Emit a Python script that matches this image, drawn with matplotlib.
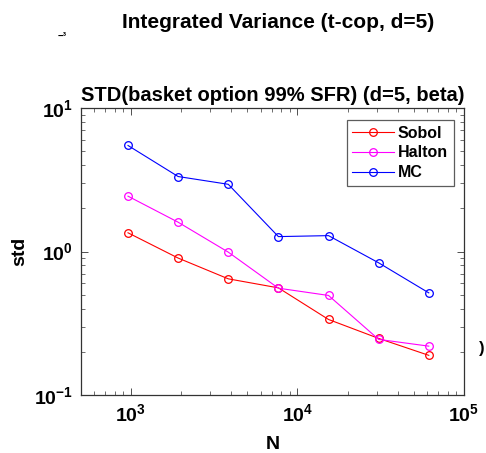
import matplotlib
matplotlib.use("Agg")
import matplotlib.pyplot as plt
from matplotlib.ticker import LogLocator, NullFormatter

N = [960, 1920, 3840, 7680, 15360, 30720, 61440]
sobol = [1.35, 0.90, 0.645, 0.558, 0.336, 0.248, 0.189]
halton = [2.43, 1.60, 0.99, 0.555, 0.494, 0.244, 0.219]
mc = [5.48, 3.33, 2.94, 1.27, 1.29, 0.834, 0.515]
series_names = ["Sobol", "Halton", "MC"]
series_colors = ["#ff0000", "#ff00ff", "#0000ff"]

plt.rcParams['font.family'] = ['Liberation Sans', 'DejaVu Sans']
plt.rcParams['font.weight'] = 'bold'
plt.rcParams['mathtext.default'] = 'bf'

axcol = '#333333'
fig = plt.figure(figsize=(4.86, 4.53), dpi=100)
ax = fig.add_axes([81/486, 1 - 395/453, (464-81)/486, (395-108)/453])

for vals, name, col in zip([sobol, halton, mc], series_names, series_colors):
    ax.plot(N, vals, color=col, lw=0.8, marker='o', markersize=5.5,
            markerfacecolor='none', markeredgewidth=0.9, label=name)

ax.set_xscale('log')
ax.set_yscale('log')
ax.set_xlim(10**2.7, 1e5)
ax.set_ylim(0.1, 10)
ax.xaxis.set_minor_locator(LogLocator(base=10, subs=range(2, 10)))
ax.yaxis.set_minor_locator(LogLocator(base=10, subs=range(2, 10)))
ax.xaxis.set_minor_formatter(NullFormatter())
ax.yaxis.set_minor_formatter(NullFormatter())
ax.tick_params(which='both', direction='in', top=True, right=True, labelsize=14,
               color=axcol)
ax.tick_params(which='major', length=5, width=0.6, pad=6)
ax.tick_params(which='minor', length=3, width=0.5)
for s in ax.spines.values():
    s.set_linewidth(0.9)
    s.set_color(axcol)
for lab in ax.get_xticklabels() + ax.get_yticklabels():
    lab.set_fontweight('bold')

ax.set_title("STD(basket option 99% SFR) (d=5, beta)", fontsize=14.5,
             fontweight='bold', pad=5)
ax.set_xlabel("N", fontsize=14, fontweight='bold', labelpad=8)
ax.set_ylabel("std", fontsize=14, fontweight='bold', labelpad=4)

leg = ax.legend(loc='upper right', fontsize=11.5, frameon=True, fancybox=False,
                edgecolor='#333333', bbox_to_anchor=(0.973, 0.958),
                borderaxespad=0.0, handlelength=2.6,
                borderpad=0.35, labelspacing=0.3, handletextpad=0.25)
leg.get_frame().set_linewidth(0.9)
for t in leg.get_texts():
    t.set_fontweight('bold')

fig.text(278/486, 1 - 22/453, "Integrated Variance (t-cop, d=5)", ha='center',
         va='center', fontsize=15, fontweight='bold')
fig.text(62/486, 1 - 36/453, "\u2212\u00b3", ha='center', va='center',
         fontsize=7, fontweight='bold')
fig.text(479/486, 1 - 348/453, ")", ha='left', va='center', fontsize=12,
         fontweight='bold')

fig.savefig("out.png", dpi=100, facecolor='white')
